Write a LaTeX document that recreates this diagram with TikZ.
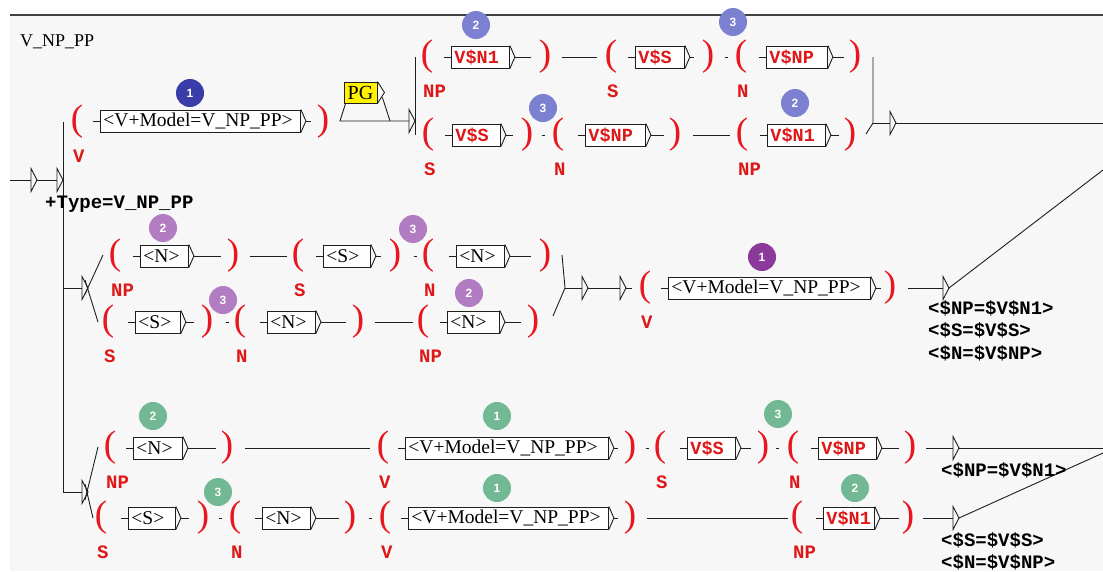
\documentclass[tikz,border=0pt]{standalone}
\usepackage{fontspec}
\setmainfont{Liberation Serif}
\setsansfont{Liberation Sans}
\newfontfamily\monof{Liberation Mono}
\definecolor{pred}{RGB}{232,22,30}
\definecolor{lred}{RGB}{222,24,24}
\definecolor{panel}{RGB}{247,247,247}
\definecolor{dblue}{RGB}{58,60,168}
\definecolor{lblue}{RGB}{124,128,208}
\definecolor{dpurp}{RGB}{139,58,155}
\definecolor{lpurp}{RGB}{178,124,194}
\definecolor{grn}{RGB}{114,184,148}
\definecolor{ink}{RGB}{30,30,30}
\tikzset{
 ln/.style={draw=ink, line width=0.9pt},
 paren/.style={text=pred, font=\fontsize{37}{37}\selectfont, inner sep=0pt},
 vlab/.style={text=lred, font=\monof\bfseries\fontsize{19}{19}\selectfont, anchor=west, inner sep=0pt},
 ubox/.style={draw=ink, line width=0.9pt, fill=white, minimum height=22pt, inner xsep=3pt, inner ysep=0pt, align=left, font=\fontsize{19.5}{19.5}\selectfont},
 vbox/.style={text=lred, font=\monof\bfseries\fontsize{18.5}{18.5}\selectfont},
 badge/.style={circle, minimum size=28pt, inner sep=0pt, text=white, font=\sffamily\bfseries\fontsize{12}{12}\selectfont},
 outtxt/.style={font=\monof\bfseries\fontsize{19}{19}\selectfont, anchor=west, inner sep=0pt},
}
\newcommand\VO[4]{\node[paren] (#1) at (#2,#3) {(};\node[vlab] (#1l) at ({#2-4},{#3+34}) {#4};}
\newcommand\VC[3]{\node[paren] (#1) at (#2,#3) {)};}
\newcommand\UB[7]{%
 \pgfmathsetmacro\ubw{#3-#2}%
 \pgfmathsetmacro\ubt{#3-#2-6}%
 \pgfmathsetmacro\ubo{#7-#3}%
 \node[ubox,#6,minimum width=\ubw pt,text width=\ubt pt,anchor=west] (#1) at (#2,#4) {#5};
 \draw[ln] ([xshift=-7pt]#1.west) -- (#1.west);
 \draw[ln] (#1.north east) -- ([xshift=5pt]#1.east) -- (#1.south east);
 \draw[ln] ([xshift=5pt]#1.east) -- ([xshift=\ubo pt]#1.east);
}
\newcommand\ARR[3]{\coordinate (#1) at (#2,#3);\draw[ln] (#1) ++(0,-11.5) -- ++(6,11.5) -- ++(-6,11.5) -- cycle;}
\newcommand\BDG[5]{\node[badge,fill=#4] (#1) at (#2,#3) {#5};}
\newcommand\DOT[2]{\draw[ln] ({#1-1.5},#2) -- ({#1+1.5},#2);}
\newcommand\LNK[4]{\draw[ln] ([xshift=#3pt]#1.center) -- ([xshift=#4pt]#2.center);}
\begin{document}
\begin{tikzpicture}[x=1pt,y=-1pt]
\useasboundingbox (0,0) rectangle (1103,571);
\fill[white] (0,0) rectangle (1103,571);
\fill[panel] (10,15) rectangle (1103,571);
\draw[line width=2pt, black!75] (10,15) -- (1103,15);

\node[anchor=west, font=\fontsize{18}{18}\selectfont, inner sep=0pt] (title) at (20,42) {V\_NP\_PP};

% entry
\coordinate (st) at (10,180);
\ARR{t0}{31}{180}
\ARR{t1}{57}{180}
\draw[ln] (st) -- (t0);
\draw[ln] ([xshift=6pt]t0) -- (t1);
\coordinate (vt) at (63,122);
\coordinate (vb) at (63,492);
\coordinate (hm) at (63,288);
\draw[ln] (vt) -- (vb);
\node[outtxt] (type) at (45,204) {+Type=V\_NP\_PP};

% ---------- top section
\VO{p1o}{77}{122}{V}
\UB{b1}{100}{300}{121}{<V+Model=V\_NP\_PP>}{}{310}
\VC{p1c}{323}{122}
\BDG{g1}{190}{93}{dblue}{1}

\node[draw=ink, line width=0.9pt, fill=yellow, minimum width=33pt, minimum height=21pt, inner sep=0pt, font=\fontsize{20}{20}\selectfont] (pg) at (360.5,92.5) {PG};
\draw[ln] (pg.north east) -- ([xshift=7pt]pg.east) -- (pg.south east);
\coordinate (pgl) at (340,121);
\coordinate (pgr) at (390,121);
\ARR{tpg}{409}{121}
\draw[ln] ([xshift=2pt]pg.south west) -- (pgl) -- (tpg);
\draw[ln] ([xshift=5pt,yshift=-5pt]pg.east) -- (pgr);
\coordinate (fa) at (415,57);
\coordinate (fb) at (415,135);
\draw[ln] (fa) -- (fb);

% row A
\VO{pAo1}{427}{57}{NP}
\UB{bA1}{451}{509}{57}{V\$N1}{vbox}{530}
\VC{pAc1}{545}{57}
\VO{pAo2}{611}{57}{S}
\UB{bA2}{635}{684}{57}{V\$S}{vbox}{693}
\VC{pAc2}{708}{57}
\DOT{726}{57}
\VO{pAo3}{741}{57}{N}
\UB{bA3}{766}{827}{57}{V\$NP}{vbox}{843}
\VC{pAc3}{855}{57}
\LNK{pAc1}{pAo2}{17}{-14}
\BDG{gA1}{476}{25}{lblue}{2}
\BDG{gA2}{733}{22}{lblue}{3}

% row B
\VO{pBo1}{428}{135}{S}
\UB{bB1}{452}{500}{135}{V\$S}{vbox}{512}
\VC{pBc1}{527}{135}
\DOT{543}{135}
\VO{pBo2}{558}{135}{N}
\UB{bB2}{585}{645}{135}{V\$NP}{vbox}{663}
\VC{pBc2}{675}{135}
\VO{pBo3}{742}{135}{NP}
\UB{bB3}{767}{825}{135}{V\$N1}{vbox}{838}
\VC{pBc3}{850}{135}
\LNK{pBc2}{pBo3}{18}{-12}
\BDG{gB1}{543}{108}{lblue}{3}
\BDG{gB2}{795}{103}{lblue}{2}

% top merge
\coordinate (rm1) at (873,57);
\coordinate (rm2) at (873,123);
\coordinate (rm3) at (866,134);
\ARR{trm}{890}{123}
\coordinate (rme) at (1103,123);
\draw[ln] (rm1) -- (rm2) -- (rm3);
\draw[ln] (rm2) -- (trm);
\draw[ln] ([xshift=6pt]trm) -- (rme);

% ---------- middle section
\ARR{tm}{82}{288}
\draw[ln] (hm) -- (tm);
\coordinate (xm1) at (103,255);
\coordinate (xm2) at (98,322);
\draw[ln] (85,294) -- (xm1);
\draw[ln] (85,280) -- (xm2);

% row C
\VO{pCo1}{115}{256}{NP}
\UB{bC1}{140}{188}{256}{<N>}{}{220}
\VC{pCc1}{233}{256}
\VO{pCo2}{298}{256}{S}
\UB{bC2}{323}{370}{256}{<S>}{}{380}
\VC{pCc2}{395}{256}
\DOT{415}{256}
\VO{pCo3}{428}{256}{N}
\UB{bC3}{456}{504}{256}{<N>}{}{530}
\VC{pCc3}{545}{256}
\LNK{pCc1}{pCo2}{17}{-11}
\BDG{gC1}{163}{228}{lpurp}{2}
\BDG{gC2}{413}{229}{lpurp}{3}

% row D
\VO{pDo1}{108}{322}{S}
\UB{bD1}{135}{180}{322}{<S>}{}{193}
\VC{pDc1}{207}{322}
\DOT{227}{322}
\VO{pDo2}{240}{322}{N}
\UB{bD2}{267}{315}{322}{<N>}{}{345}
\VC{pDc2}{358}{322}
\VO{pDo3}{423}{322}{NP}
\UB{bD3}{447}{499}{322}{<N>}{}{520}
\VC{pDc3}{533}{322}
\LNK{pDc2}{pDo3}{17}{-10}
\BDG{gD1}{223}{300}{lpurp}{3}
\BDG{gD2}{469}{293}{lpurp}{2}

% middle merge
\coordinate (mj) at (565,288);
\coordinate (mja) at (562,255);
\coordinate (mjb) at (553,316);
\draw[ln] (mja) -- (mj) -- (mjb);
\ARR{mt1}{582}{288}
\ARR{mt2}{620}{288}
\draw[ln] (mj) -- (mt1);
\draw[ln] ([xshift=6pt]mt1) -- (mt2);
\draw[ln] ([xshift=6pt]mt2) -- ++(6,0);
\VO{pMo}{645}{288}{V}
\UB{bM}{668}{870}{288}{<V+Model=V\_NP\_PP>}{}{880}
\VC{pMc}{890}{288}
\BDG{gM}{762}{257}{dpurp}{1}
\ARR{tmo}{943}{288}
\coordinate (mout) at (1103,170);
\draw[ln] ([xshift=18pt]pMc.center) -- (tmo);
\draw[ln] ([xshift=6pt]tmo) -- (mout);
\node[outtxt] (oM1) at (928,308) {<\$NP=\$V\$N1>};
\node[outtxt] (oM2) at (928,330) {<\$S=\$V\$S>};
\node[outtxt] (oM3) at (928,353) {<\$N=\$V\$NP>};

% ---------- bottom section
\ARR{tb}{82}{492}
\draw[ln] (vb) -- (tb);
\coordinate (xb1) at (98,447);
\coordinate (xb2) at (93,518);
\draw[ln] (85,500) -- (xb1);
\draw[ln] (85,484) -- (xb2);

% row E
\VO{pEo1}{110}{448}{NP}
\UB{bE1}{133}{182}{448}{<N>}{}{215}
\VC{pEc1}{227}{448}
\VO{pEo2}{383}{448}{V}
\UB{bE2}{405}{608}{448}{<V+Model=V\_NP\_PP>}{}{617}
\VC{pEc2}{630}{448}
\DOT{647}{448}
\VO{pEo3}{660}{448}{S}
\UB{bE3}{687}{735}{448}{V\$S}{vbox}{750}
\VC{pEc3}{763}{448}
\DOT{777}{448}
\VO{pEo4}{793}{448}{N}
\UB{bE4}{818}{876}{448}{V\$NP}{vbox}{898}
\VC{pEc4}{910}{448}
\LNK{pEc1}{pEo2}{18}{-13}
\ARR{tE}{953}{448}
\coordinate (eout) at (1103,448);
\draw[ln] ([xshift=16pt]pEc4.center) -- (tE);
\draw[ln] ([xshift=6pt]tE) -- (eout);
\BDG{gE1}{153}{416}{grn}{2}
\BDG{gE2}{497}{416}{grn}{1}
\BDG{gE3}{778}{414}{grn}{3}

% row F
\VO{pFo1}{101}{518}{S}
\UB{bF1}{128}{175}{518}{<S>}{}{188}
\VC{pFc1}{203}{518}
\DOT{220}{518}
\VO{pFo2}{235}{518}{N}
\UB{bF2}{262}{310}{518}{<N>}{}{338}
\VC{pFc2}{350}{518}
\DOT{370}{518}
\VO{pFo3}{385}{518}{V}
\UB{bF3}{408}{608}{518}{<V+Model=V\_NP\_PP>}{}{617}
\VC{pFc3}{630}{518}
\VO{pFo4}{797}{518}{NP}
\UB{bF4}{823}{874}{518}{V\$N1}{vbox}{898}
\VC{pFc4}{908}{518}
\LNK{pFc3}{pFo4}{17}{-9}
\ARR{tF}{953}{518}
\coordinate (fout) at (1103,453);
\draw[ln] ([xshift=15pt]pFc4.center) -- (tF);
\draw[ln] ([xshift=6pt]tF) -- (fout);
\BDG{gF1}{218}{492}{grn}{3}
\BDG{gF2}{497}{488}{grn}{1}
\BDG{gF3}{855}{488}{grn}{2}

\node[outtxt] (oE1) at (941,470) {<\$NP=\$V\$N1>};
\node[outtxt] (oF1) at (941,540) {<\$S=\$V\$S>};
\node[outtxt] (oF2) at (941,562) {<\$N=\$V\$NP>};
\end{tikzpicture}
\end{document}
